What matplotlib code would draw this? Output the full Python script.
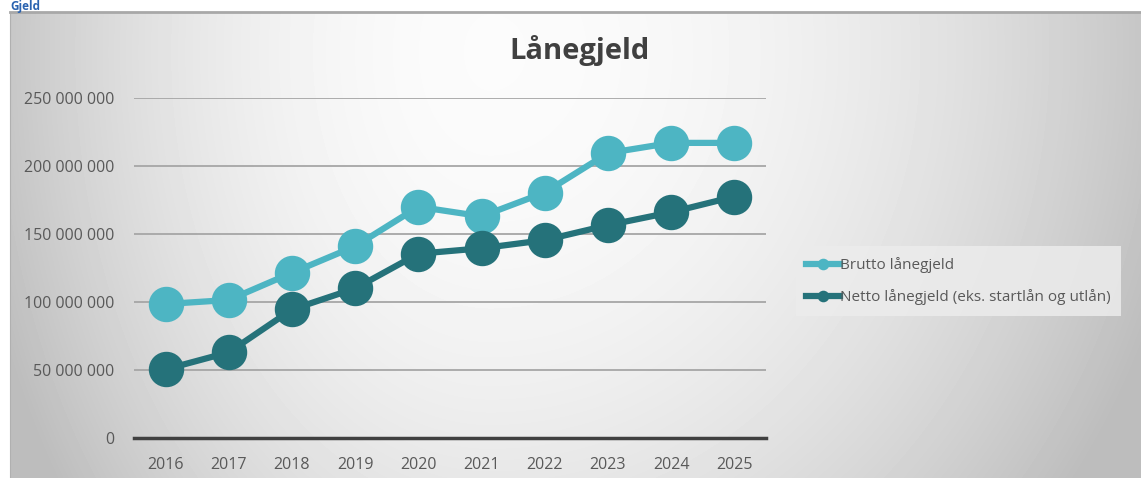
import numpy as np
import matplotlib
matplotlib.use("Agg")
import matplotlib.pyplot as plt
from matplotlib.ticker import FuncFormatter, MultipleLocator

years = ["2016", "2017", "2018", "2019", "2020", "2021", "2022", "2023", "2024", "2025"]
brutto = [98.5, 101.5, 121.5, 141, 170, 163, 180.5, 209.5, 217, 217]   # mill. kr
netto = [50.5, 63, 94.5, 110, 135.5, 139.5, 145.5, 156.5, 166, 177.5]  # mill. kr
series_names = ["Brutto lånegjeld", "Netto lånegjeld (eks. startlån og utlån)"]

LIGHT = "#4db5c3"
DARK = "#25727a"
TEXT = "#595959"

plt.rcParams["font.family"] = ["Open Sans", "DejaVu Sans"]

W, H = 1141, 478
fig = plt.figure(figsize=(W / 100, H / 100), dpi=100)
fig.patch.set_facecolor("white")

# grey gradient background for the chart area, brightest near the title
bg = fig.add_axes([10 / W, 0, 1 - 10 / W, (H - 12) / H], zorder=0)
yy, xx = np.mgrid[0:466, 0:1131].astype(float)
cx = 480.0
sx = np.where(xx < cx, 520.0, 700.0)
d2 = ((xx - cx) / sx) ** 2 + ((yy - 40) / 750.0) ** 2
shade = np.clip(0.985 - 0.24 * d2, 0.74, 0.985)
bg.imshow(shade, cmap="gray", vmin=0, vmax=1, aspect="auto", interpolation="bilinear")
bg.set_xticks([])
bg.set_yticks([])
for s in bg.spines.values():
    s.set_visible(False)
bg.spines["top"].set_visible(True)
bg.spines["top"].set_color("#a8a8a8")
bg.spines["top"].set_linewidth(2)
bg.spines["left"].set_visible(True)
bg.spines["left"].set_color("#b0b0b0")

# section heading above the chart frame
fig.text(10 / W, 1 - 10 / H, "Gjeld", color="#2a63b0", fontsize=8.5, fontweight="bold",
         va="baseline", ha="left")

ax = fig.add_axes([134 / W, (H - 438) / H, 632 / W, 340 / H], zorder=2)
ax.patch.set_visible(False)
x = np.arange(len(years))
vals_b = np.array(brutto) * 1e6
vals_n = np.array(netto) * 1e6

ax.plot(x, vals_b, color=LIGHT, lw=4.5, marker="o", ms=24.5, clip_on=False, zorder=3,
        label=series_names[0])
ax.plot(x, vals_n, color=DARK, lw=4.5, marker="o", ms=24.5, clip_on=False, zorder=4,
        label=series_names[1])

ax.set_xlim(-0.5, 9.5)
ax.set_ylim(0, 250e6)
ax.yaxis.set_major_locator(MultipleLocator(50e6))
ax.yaxis.set_major_formatter(FuncFormatter(lambda v, p: f"{int(v):,}".replace(",", " ")))
ax.set_xticks(x)
ax.set_xticklabels(years)
ax.tick_params(axis="y", length=0, labelsize=11.5, colors=TEXT, pad=14)
ax.tick_params(axis="x", length=0, labelsize=11.5, colors=TEXT, pad=14)
ax.grid(axis="y", color="#a6a6a6", lw=1.3)
ax.set_axisbelow(True)
for s in ["top", "right", "left"]:
    ax.spines[s].set_visible(False)
ax.spines["bottom"].set_color("#404040")
ax.spines["bottom"].set_linewidth(2.5)

fig.text(580 / W, 1 - 51 / H, "Lånegjeld", fontsize=21, fontweight="bold", color="#404040",
         ha="center", va="center")

leg = ax.legend(loc="center left", bbox_to_anchor=(788 / W, 1 - 281 / H),
                bbox_transform=fig.transFigure, frameon=True, fontsize=11,
                handlelength=2.2, handletextpad=0.0, labelspacing=1.05,
                borderpad=0.7, markerscale=0.3, fancybox=False)
leg.get_frame().set_facecolor("#ececec")
leg.get_frame().set_edgecolor("none")
leg.get_frame().set_alpha(0.85)
for t in leg.get_texts():
    t.set_color(TEXT)

fig.savefig("out.png", dpi=100)
